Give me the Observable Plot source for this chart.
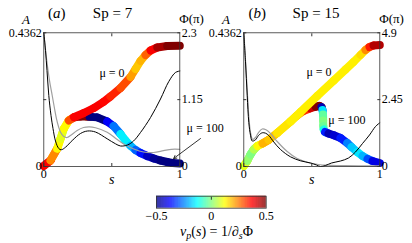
<!DOCTYPE html>
<html>
<head>
<meta charset="utf-8">
<script src="https://cdn.jsdelivr.net/npm/d3@7"></script>
<script src="https://cdn.jsdelivr.net/npm/@observablehq/plot@0.6"></script>
<style>
  body { margin: 0; background: #fff; }
  #fig { position: relative; width: 412px; height: 243px; overflow: hidden;
         font-family: "Liberation Serif", "DejaVu Serif", serif; color: #000; background: #fff; }
  #fig svg { position: absolute; overflow: visible; background: transparent; font-family: "Liberation Serif", "DejaVu Serif", serif !important; }
  #fig svg text { font-family: "Liberation Serif", "DejaVu Serif", serif !important; }
  .lbl { position: absolute; white-space: nowrap; line-height: 1; transform: translate(-50%, -50%); }
</style>
</head>
<body>
<div id="fig"></div>
<script>
// ---- axis ticks and labels ----
const A_MAX = 0.4362;
const yTicks = [0, 0.5, 1];
const aTickLabels = ["0", "", "0.4362"];
const sTicks = [0, 0.5, 1];
const sTickLabels = ["0", "", "1"];
const phiMaxA = 2.3, phiTickLabelsA = ["0", "1.15", "2.3"];
const phiMaxB = 4.9, phiTickLabelsB = ["0", "2.45", "4.9"];
const cbTicks = [-0.5, 0, 0.5];
const cbTickLabels = ["\u22120.5", "0", "0.5"];

// ---- (a) Sp = 7 : phase Φ(s) (units of π) and local phase velocity v_p ----
const a_mu0_s   = [0, 0.049, 0.0985, 0.123, 0.147, 0.184, 0.221, 0.294, 0.368, 0.439, 0.490, 0.564, 0.638, 0.674, 0.711, 0.748, 0.785, 0.834, 0.907, 1];
const a_mu0_phi = [0.01, 0.103, 0.305, 0.477, 0.649, 0.791, 0.848, 0.920, 1.006, 1.110, 1.204, 1.350, 1.540, 1.677, 1.815, 1.918, 1.996, 2.047, 2.073, 2.076];
const a_mu0_vp  = [0.38, 0.24, 0.13, 0.1, 0.13, 0.3, 0.38, 0.38, 0.38, 0.37, 0.34, 0.3, 0.22, 0.18, 0.2, 0.28, 0.38, 0.46, 0.5, 0.5];

const a_mu100_s   = [0, 0.049, 0.0985, 0.123, 0.147, 0.184, 0.226, 0.270, 0.314, 0.336, 0.393, 0.466, 0.5125, 0.564, 0.601, 0.6375, 0.674, 0.711, 0.760, 0.809, 0.858, 0.907, 0.946, 1];
const a_mu100_phi = [0.01, 0.103, 0.305, 0.477, 0.649, 0.791, 0.846, 0.860, 0.860, 0.855, 0.845, 0.774, 0.697, 0.559, 0.447, 0.356, 0.284, 0.232, 0.181, 0.138, 0.103, 0.077, 0.060, 0.052];
const a_mu100_vp  = [0.38, 0.24, 0.13, 0.1, 0.13, 0.3, 0.45, 0.5, 0.5, -0.5, -0.5, -0.38, -0.26, -0.14, -0.14, -0.2, -0.28, -0.36, -0.44, -0.48, -0.5, -0.5, -0.5, -0.5];

// amplitude A(s)
const a_black_s = [0, 0.0125, 0.0235, 0.0368, 0.053, 0.0676, 0.086, 0.110, 0.128, 0.160, 0.209, 0.270, 0.321, 0.380, 0.466, 0.527, 0.564, 0.615, 0.660, 0.711, 0.785, 0.858, 0.919, 0.968, 1];
const a_black_A = [0.4362, 0.3785, 0.3132, 0.2316, 0.1664, 0.124, 0.0832, 0.0587, 0.0545, 0.063, 0.0848, 0.1077, 0.1158, 0.1125, 0.0904, 0.0741, 0.0669, 0.0701, 0.0832, 0.1109, 0.1599, 0.2202, 0.2773, 0.3067, 0.3116];
const a_gray_s  = [0, 0.0199, 0.0419, 0.0618, 0.0787, 0.0934, 0.108, 0.123, 0.147, 0.171, 0.196, 0.2456, 0.292, 0.336, 0.380, 0.466, 0.540, 0.601, 0.662, 0.733, 0.807, 0.880, 0.939, 1];
const a_gray_A  = [0.4362, 0.3524, 0.2806, 0.2316, 0.1892, 0.1556, 0.1305, 0.1119, 0.0979, 0.0946, 0.1011, 0.1175, 0.1272, 0.1295, 0.1263, 0.1119, 0.0881, 0.0701, 0.0571, 0.0473, 0.0457, 0.0515, 0.0561, 0.0561];

// ---- (b) Sp = 15 ----
const b_mu0_s   = [0, 0.025, 0.0493, 0.0735, 0.1007, 0.1375, 0.1816, 0.2456, 0.3434, 0.4169, 0.5397, 0.6618, 0.7478, 0.8066, 0.8581, 0.8949, 0.9243, 0.9537, 1];
const b_mu0_phi = [0.02, 0.202, 0.440, 0.623, 0.751, 0.843, 0.971, 1.228, 1.649, 1.997, 2.584, 3.152, 3.555, 3.830, 4.086, 4.270, 4.380, 4.435, 4.453];
const b_mu0_vp  = [0.1, 0.02, 0.0, 0.05, 0.13, 0.2, 0.18, 0.15, 0.14, 0.14, 0.14, 0.14, 0.14, 0.14, 0.16, 0.24, 0.35, 0.45, 0.5];

const b_mu100_s   = [0, 0.025, 0.0493, 0.0735, 0.1007, 0.1375, 0.1816, 0.2456, 0.3434, 0.3875, 0.439, 0.4904, 0.5272, 0.5566, 0.5713, 0.5787, 0.5824, 0.5838, 0.5846, 0.5875, 0.5971, 0.6228, 0.6618, 0.7110, 0.7603, 0.7919, 0.8338, 0.8728, 0.9096, 0.9463, 1];
const b_mu100_phi = [0.02, 0.202, 0.440, 0.623, 0.751, 0.843, 0.971, 1.228, 1.649, 1.851, 2.034, 2.133, 2.192, 2.217, 2.181, 2.071, 1.906, 1.686, 1.484, 1.356, 1.264, 1.209, 1.144, 1.045, 0.861, 0.715, 0.531, 0.385, 0.282, 0.202, 0.128];
const b_mu100_vp  = [0.1, 0.02, 0.0, 0.05, 0.13, 0.2, 0.18, 0.15, 0.16, 0.22, 0.33, 0.42, 0.5, 0.5, -0.45, -0.15, -0.03, 0.0, -0.02, -0.1, -0.35, -0.45, -0.42, -0.35, -0.25, -0.18, -0.15, -0.2, -0.3, -0.4, -0.47];

const b_black_s = [0, 0.0125, 0.025, 0.0368, 0.0493, 0.0618, 0.086, 0.1081, 0.1353, 0.1596, 0.1838, 0.2206, 0.2699, 0.3434, 0.4169, 0.4904, 0.5346, 0.564, 0.6007, 0.6449, 0.711, 0.7699, 0.8213, 0.8728, 0.9243, 0.9684, 1];
const b_black_A = [0.4362, 0.3416, 0.2326, 0.1436, 0.1021, 0.0832, 0.0871, 0.1011, 0.110, 0.1087, 0.1011, 0.0799, 0.0555, 0.0316, 0.0186, 0.0114, 0.0049, 0.0, 0.0033, 0.0114, 0.0179, 0.0277, 0.0473, 0.075, 0.1028, 0.1305, 0.1426];
const b_gray_s  = [0, 0.014, 0.0272, 0.0397, 0.0515, 0.0654, 0.086, 0.1081, 0.1353, 0.1632, 0.1963, 0.2456, 0.3191, 0.3926, 0.4662, 0.5493, 0.6375, 0.7478, 0.8728, 1];
const b_gray_A  = [0.4362, 0.336, 0.2316, 0.1468, 0.106, 0.0881, 0.0946, 0.1109, 0.1223, 0.1197, 0.1077, 0.0816, 0.0489, 0.0261, 0.014, 0.0065, 0.0039, 0.0026, 0.0023, 0.0023];

// curve annotations: [s, y-fraction, text, text-anchor]
const a_notes = [[0.5015, 0.696, "\u03bc = 0", "middle"], [1.049, 0.284, "\u03bc = 100", "start"]];
const b_notes = [[0.553, 0.703, "\u03bc = 0", "middle"], [0.758, 0.348, "\u03bc = 100", "middle"]];
const a_pointer = [[1.152, 0.209, 0.955, 0.06]];

// ---- jet colour map ----
function jet(t) {
  const c = v => Math.round(255 * Math.max(0, Math.min(1, v)));
  return `rgb(${c(1.5 - Math.abs(4 * t - 3))},${c(1.5 - Math.abs(4 * t - 2))},${c(1.5 - Math.abs(4 * t - 1))})`;
}
const colorScale = {type: "linear", domain: [-0.5, 0.5], interpolate: jet, clamp: true};
const FONT = "Liberation Serif, DejaVu Serif, serif";
const fmt = (ticks, labels) => d => labels[ticks.indexOf(d)] ?? "";

function bandSegments(s, phi, vp, phiMax) {
  return d3.pairs(d3.range(s.length)).map(([i, j]) => ({
    x1: s[i], y1: phi[i] / phiMax, x2: s[j], y2: phi[j] / phiMax, v: vp[i]
  }));
}
const rows = (s, A) => s.map((v, i) => ({s: v, y: A[i] / A_MAX}));

function panel(p) {
  const marks = [
    Plot.link(bandSegments(p.mu100s, p.mu100phi, p.mu100vp, p.phiMax),
      {x1: "x1", y1: "y1", x2: "x2", y2: "y2", stroke: "v", strokeWidth: 8, strokeLinecap: "round"}),
    Plot.link(bandSegments(p.mu0s, p.mu0phi, p.mu0vp, p.phiMax),
      {x1: "x1", y1: "y1", x2: "x2", y2: "y2", stroke: "v", strokeWidth: 8, strokeLinecap: "round"}),
    Plot.line(rows(p.grayS, p.grayA), {x: "s", y: "y", stroke: "#a0a0a0", strokeWidth: 1.2, curve: "catmull-rom"}),
    Plot.line(rows(p.blackS, p.blackA), {x: "s", y: "y", stroke: "#000", strokeWidth: 1, curve: "catmull-rom"}),
    Plot.frame({stroke: "#333", strokeWidth: 0.8}),
    Plot.axisY(yTicks, {anchor: "left", tickSize: -3, tickPadding: 5, tickFormat: fmt(yTicks, aTickLabels), label: null, stroke: "#333", fontFamily: FONT}),
    Plot.axisY(yTicks, {anchor: "right", tickSize: -3, tickPadding: 5, tickFormat: fmt(yTicks, p.phiLabels), label: null, stroke: "#333", fontFamily: FONT}),
    Plot.axisX(sTicks, {anchor: "bottom", tickSize: -3, tickPadding: 6, tickFormat: fmt(sTicks, sTickLabels), label: null, stroke: "#333", fontFamily: FONT}),
    Plot.axisX([0.5], {anchor: "top", tickSize: -3, tickFormat: () => "", label: null, stroke: "#333"})
  ];
  for (const [x, y, t, anchor] of p.notes) {
    marks.push(Plot.text([t], {x: () => x, y: () => y, text: d => d, textAnchor: anchor, fontSize: 12, fontFamily: FONT}));
  }
  if (p.pointer) marks.push(Plot.arrow(p.pointer, {x1: d => d[0], y1: d => d[1], x2: d => d[2], y2: d => d[3], stroke: "#000", strokeWidth: 0.8, headLength: 6}));
  const svg = Plot.plot({
    width: 230, height: 200,
    marginLeft: 43.3, marginRight: 50.7, marginTop: 32.3, marginBottom: 34,
    x: {domain: [0, 1], axis: null},
    y: {domain: [0, 1], axis: null},
    color: colorScale,
    style: {fontSize: "12px", background: "transparent", overflow: "visible"},
    marks
  });
  svg.setAttribute("font-family", FONT);
  svg.style.left = p.left + "px";
  svg.style.top = "0px";
  return svg;
}

const fig = document.getElementById("fig");
fig.append(panel({
  left: 0, phiMax: phiMaxA, phiLabels: phiTickLabelsA,
  mu0s: a_mu0_s, mu0phi: a_mu0_phi, mu0vp: a_mu0_vp,
  mu100s: a_mu100_s, mu100phi: a_mu100_phi, mu100vp: a_mu100_vp,
  blackS: a_black_s, blackA: a_black_A, grayS: a_gray_s, grayA: a_gray_A,
  notes: a_notes, pointer: a_pointer
}));
fig.append(panel({
  left: 200, phiMax: phiMaxB, phiLabels: phiTickLabelsB,
  mu0s: b_mu0_s, mu0phi: b_mu0_phi, mu0vp: b_mu0_vp,
  mu100s: b_mu100_s, mu100phi: b_mu100_phi, mu100vp: b_mu100_vp,
  blackS: b_black_s, blackA: b_black_A, grayS: b_gray_s, grayA: b_gray_A,
  notes: b_notes
}));

// colour bar for v_p
const ramp = d3.range(-0.5, 0.5, 0.005);
const cb = Plot.plot({
  width: 412, height: 45,
  marginLeft: 156, marginRight: 146.3, marginTop: 10.7, marginBottom: 22.3,
  x: {domain: [-0.5, 0.5], axis: null},
  y: {domain: [0, 1], axis: null},
  color: colorScale,
  style: {fontSize: "12px", background: "transparent", overflow: "visible"},
  marks: [
    Plot.rect(ramp, {x1: d => d, x2: d => d + 0.0055, y1: 0, y2: 1, fill: d => d + 0.0025}),
    Plot.frame({stroke: "#333", strokeWidth: 0.8}),
    Plot.axisX(cbTicks, {anchor: "bottom", tickSize: 0, tickPadding: 3, tickFormat: fmt(cbTicks, cbTickLabels), label: null, fontFamily: FONT}),
    Plot.axisX([0], {anchor: "top", tickSize: -3, tickFormat: () => "", label: null, stroke: "#333"})
  ]
});
cb.setAttribute("font-family", FONT);
cb.style.left = "0px";
cb.style.top = "185px";
fig.append(cb);

// titles and axis names
const texts = [
  ["<i>A</i>", 26, 19, 13], ["<i>A</i>", 226, 19, 13],
  ["\u03a6(\u03c0)", 191.5, 18, 13], ["\u03a6(\u03c0)", 391.5, 18, 13],
  ["(<i>a</i>)", 56.7, 13.3, 15], ["Sp = 7", 112.5, 13.3, 15],
  ["(<i>b</i>)", 257.3, 13.3, 15], ["Sp = 15", 316, 13.3, 15],
  ["<i>s</i>", 111.7, 180, 14], ["<i>s</i>", 311.7, 180, 14],
  ["<i>v</i><sub style='font-size:10px'><i>p</i></sub>(<i>s</i>) = 1/\u2202<sub style='font-size:10px'><i>s</i></sub>\u03a6", 216.5, 232.7, 14]
];
for (const [html, x, y, size] of texts) {
  const d = document.createElement("div");
  d.className = "lbl";
  d.innerHTML = html;
  d.style.left = x + "px";
  d.style.top = y + "px";
  d.style.fontSize = size + "px";
  fig.append(d);
}
</script>
</body>
</html>
